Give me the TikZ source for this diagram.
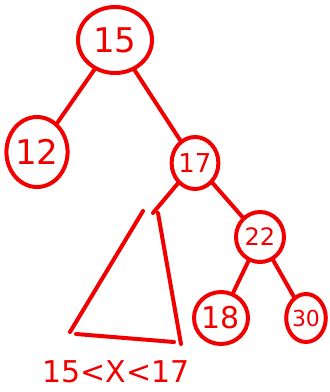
\documentclass[tikz,border=0pt]{standalone}
\usepackage{fontspec}
\setmainfont{DejaVu Sans}
\usetikzlibrary{shapes.geometric}
\definecolor{ink}{RGB}{240,0,0}
\begin{document}
\begin{tikzpicture}[x=1pt,y=1pt,
  ink line/.style={draw=ink,line width=4pt,line cap=round,line join=round},
  tnode/.style={ellipse,ink line,inner sep=0pt,text=ink,font=\fontsize{#1}{#1}\selectfont},
]
\useasboundingbox (0,0) rectangle (330,-392);
\node[tnode=34,minimum width=74pt,minimum height=66pt] (n15) at (115,-40) {15};
\node[tnode=34,minimum width=58pt,minimum height=70pt] (n12) at (37,-152) {12};
\node[tnode=26,minimum width=42pt,minimum height=52pt] (n17) at (195,-163) {17};
\node[tnode=24,minimum width=48pt,minimum height=50pt] (n22) at (260,-237) {22};
\node[tnode=30,minimum width=46pt,minimum height=52pt] (n18) at (221,-318) {18};
\node[tnode=22,minimum width=36pt,minimum height=48pt] (n30) at (306,-318) {30};
\coordinate (ta) at (153,-213);
\coordinate (tl) at (143,-211);
\coordinate (tbl) at (70,-332);
\coordinate (tr) at (158,-213);
\coordinate (tbr) at (181,-344);
\coordinate (bl) at (76,-334);
\coordinate (br) at (174,-342);
\draw[ink line] (n15) -- (n12);
\draw[ink line] (n15) -- (n17);
\draw[ink line] (n17) -- (n22);
\draw[ink line] (n22) -- (n18);
\draw[ink line] (n22) -- (n30);
\draw[ink line] (n17) -- (ta);
\draw[ink line] (tl) -- (tbl);
\draw[ink line] (tr) -- (tbr);
\draw[ink line] (bl) -- (br);
\node[text=ink,font=\fontsize{30}{30}\selectfont,inner sep=0pt] (lbl) at (116,-372) {15<X<17};
\end{tikzpicture}
\end{document}
